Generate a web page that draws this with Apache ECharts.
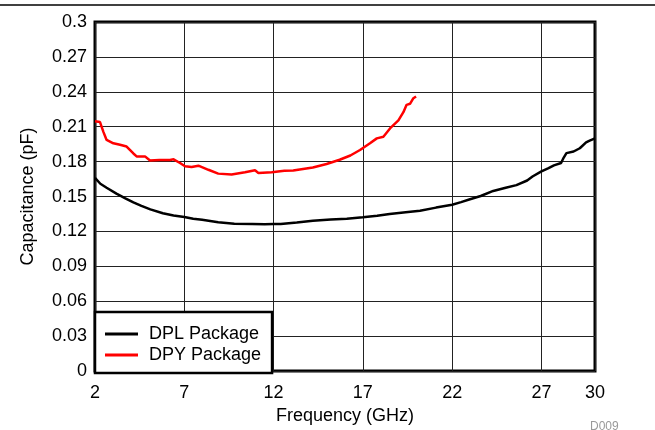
<!DOCTYPE html>
<html>
<head>
<meta charset="utf-8">
<script src="https://cdn.jsdelivr.net/npm/echarts@6/dist/echarts.min.js"></script>
<style>html,body{margin:0;padding:0;background:#fff}#c{width:655px;height:430px}</style>
</head>
<body>
<div id="c"></div>
<script>
const seriesNames = ['DPL Package', 'DPY Package'];
const xTickValues = [2, 7, 12, 17, 22, 27, 30];
const yTickValues = [0, 0.03, 0.06, 0.09, 0.12, 0.15, 0.18, 0.21, 0.24, 0.27, 0.3];

const freqDPL = [2.0, 2.3, 2.65, 3.2, 3.7, 4.15, 4.6, 5.1, 5.8, 6.4, 7.0, 7.5, 8.0, 8.9, 9.8, 10.8, 11.5, 12.0, 12.4, 13.3, 14.2, 15.2, 16.1, 17.0, 17.8, 18.5, 19.4, 20.2, 21.1, 22.0, 22.5, 23.0, 23.6, 24.3, 25.0, 25.6, 26.2, 26.5, 27.0, 27.4, 27.7, 28.1, 28.25, 28.4, 28.8, 29.15, 29.5, 29.7, 30.0];
const capDPL = [0.166, 0.161, 0.1576, 0.1525, 0.1485, 0.145, 0.142, 0.139, 0.1356, 0.1338, 0.1325, 0.131, 0.130, 0.128, 0.1267, 0.1264, 0.1262, 0.1265, 0.1265, 0.1278, 0.1292, 0.1302, 0.131, 0.1322, 0.1335, 0.135, 0.1365, 0.1378, 0.1405, 0.143, 0.1452, 0.1477, 0.1505, 0.1548, 0.1576, 0.1598, 0.1638, 0.1672, 0.1717, 0.1745, 0.1768, 0.1788, 0.1835, 0.1873, 0.1887, 0.1915, 0.1965, 0.198, 0.2];

const freqDPY = [2.0, 2.28, 2.47, 2.65, 3.03, 3.4, 3.77, 4.15, 4.33, 4.8, 5.08, 5.6, 6.2, 6.4, 6.76, 7.04, 7.41, 7.79, 8.35, 8.9, 9.65, 10.4, 10.96, 11.15, 11.9, 12.6, 13.1, 14.2, 14.97, 15.7, 16.3, 16.84, 17.4, 17.78, 18.15, 18.52, 18.99, 19.27, 19.45, 19.64, 19.83, 19.98];
const capDPY = [0.2147, 0.214, 0.2056, 0.1986, 0.1958, 0.1945, 0.193, 0.187, 0.1845, 0.1845, 0.181, 0.1815, 0.1815, 0.182, 0.1788, 0.176, 0.1754, 0.1765, 0.173, 0.1697, 0.1689, 0.1708, 0.1726, 0.1703, 0.1708, 0.1722, 0.1723, 0.175, 0.178, 0.1816, 0.1853, 0.19, 0.1958, 0.2, 0.2014, 0.2085, 0.2155, 0.2225, 0.2288, 0.2297, 0.2345, 0.236];

const pairs = (xs, ys) => xs.map((x, i) => [x, ys[i]]);
const font = 'Liberation Sans, Arial, sans-serif';

const chart = echarts.init(document.getElementById('c'), null, {renderer: 'canvas'});
chart.setOption({
  animation: false,
  backgroundColor: '#fff',
  grid: {left: 95, right: 60, top: 22, bottom: 54, show: true, borderColor: '#000', borderWidth: 3, backgroundColor: 'transparent'},
  xAxis: {
    type: 'value', min: xTickValues[0], max: xTickValues[xTickValues.length - 1], interval: 5,
    name: 'Frequency (GHz)', nameLocation: 'middle', nameGap: 33,
    nameTextStyle: {fontFamily: font, fontSize: 18, color: '#000'},
    axisLine: {show: false}, axisTick: {show: false},
    axisLabel: {fontFamily: font, fontSize: 18, color: '#000', margin: 13},
    splitLine: {show: true, lineStyle: {color: '#222', width: 1}}
  },
  yAxis: {
    type: 'value', min: yTickValues[0], max: yTickValues[yTickValues.length - 1], interval: 0.03,
    name: 'Capacitance (pF)', nameLocation: 'middle', nameGap: 58,
    nameTextStyle: {fontFamily: font, fontSize: 18, color: '#000'},
    axisLine: {show: false}, axisTick: {show: false},
    axisLabel: {fontFamily: font, fontSize: 18, color: '#000', margin: 8},
    splitLine: {show: true, lineStyle: {color: '#222', width: 1}}
  },
  legend: {
    left: 95, top: 312, orient: 'vertical',
    backgroundColor: '#fff', borderColor: '#000', borderWidth: 2.5, borderRadius: 0,
    padding: [13, 11, 9, 10], itemGap: 3,
    icon: 'rect', itemWidth: 33, itemHeight: 3,
    textStyle: {fontFamily: font, fontSize: 18, color: '#000', padding: [0, 0, 0, 6]},
    data: seriesNames
  },
  series: [
    {name: seriesNames[0], type: 'line', data: pairs(freqDPL, capDPL), showSymbol: false, symbol: 'none',
     lineStyle: {color: '#000', width: 2.5}, itemStyle: {color: '#000'}, z: 3},
    {name: seriesNames[1], type: 'line', data: pairs(freqDPY, capDPY), showSymbol: false, symbol: 'none',
     lineStyle: {color: '#ff0000', width: 2.5}, itemStyle: {color: '#ff0000'}, z: 4}
  ],
  graphic: [
    {type: 'line', shape: {x1: 0, y1: 5, x2: 655, y2: 5}, style: {stroke: '#000', lineWidth: 1.5}},
    {type: 'text', left: 590, top: 421, style: {text: 'D009', fontFamily: font, fontSize: 12, fill: '#999'}}
  ]
});
</script>
</body>
</html>
